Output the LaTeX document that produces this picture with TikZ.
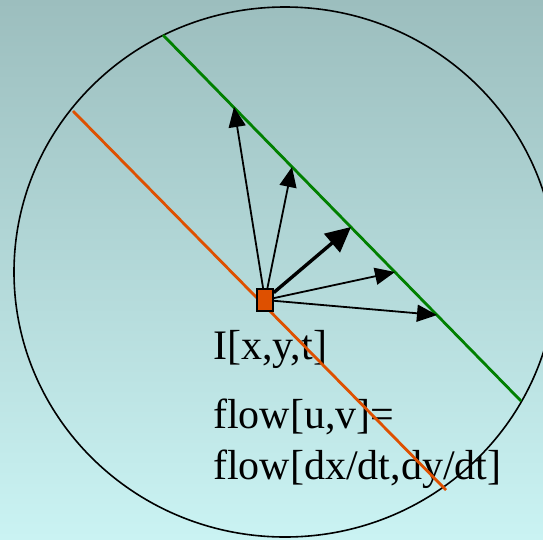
\documentclass[tikz,border=0pt]{standalone}
\usepackage{fontspec}
\setmainfont{Liberation Serif}
\usetikzlibrary{arrows.meta}
\definecolor{lineorange}{RGB}{222,80,0}
\definecolor{linegreen}{RGB}{0,128,0}
\definecolor{bgtop}{RGB}{156,190,190}
\definecolor{bgbottom}{RGB}{202,243,243}
\tikzset{
  flowarrow/.style={-{Triangle[length=20pt,width=17pt]},line width=1.8pt},
  mainarrow/.style={-{Triangle[length=25pt,width=24pt]},line width=3.4pt},
  eqtext/.style={anchor=base west,inner sep=0pt,font=\fontsize{42}{50}\selectfont},
  pixel/.style={draw,fill=lineorange,line width=1.5pt,inner sep=0pt,minimum width=16pt,minimum height=22pt}
}
\begin{document}
\begin{tikzpicture}[x=1pt,y=-1pt]
	\shade[top color=bgtop,bottom color=bgbottom] (0,0) rectangle (543,539);
	\useasboundingbox (0,0) rectangle (543,539);
	\node[eqtext] (ixyt) at (213,359) {I[x,y,t]};
	\node[eqtext] (flowa) at (213,428) {flow[u,v]=};
	\node[eqtext] (flowb) at (213,479) {flow[dx/dt,dy/dt]};
	\draw[line width=1.6pt] (285,272) ellipse [x radius=271pt,y radius=265pt];
	\draw[linegreen,line width=2.8pt] (163,35) -- (521,401);
	\draw[lineorange,line width=2.8pt] (73,111) -- (446,490);
	\coordinate (g1) at (234,107);
	\coordinate (g2) at (292,167);
	\coordinate (g3) at (351,227);
	\coordinate (g4) at (395,272);
	\coordinate (g5) at (437,315);
	\node[pixel] (px) at (265,300) {};
	\foreach \g in {g1,g2,g4,g5}
		\draw[flowarrow] (px) -- (\g);
	\draw[mainarrow] (px) -- (g3);
\end{tikzpicture}
\end{document}
